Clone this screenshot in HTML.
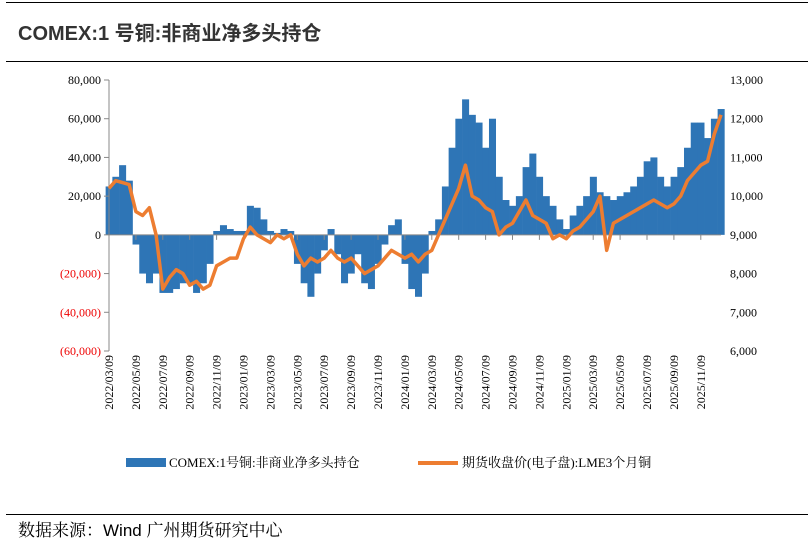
<!DOCTYPE html>
<html><head><meta charset="utf-8">
<style>
body{margin:0;background:#fff;width:808px;height:541px;overflow:hidden;font-family:"Liberation Serif","Noto Serif CJK SC",serif;}
.title{position:absolute;left:18px;top:17px;font:bold 20px "Liberation Sans","Noto Sans CJK SC",sans-serif;color:#333;}
.hr{position:absolute;left:6px;width:802px;height:1px;background:#000;}
.src{position:absolute;left:18px;top:516px;font:17px "Liberation Sans","Noto Serif CJK SC",serif;color:#000;}
</style></head><body>
<div class="hr" style="top:2px"></div>
<div class="title">COMEX:1 号铜:非商业净多头持仓</div>
<div class="hr" style="top:61px"></div>
<svg id="c" width="808" height="541" style="position:absolute;left:0;top:0"></svg>
<div class="hr" style="top:514px"></div>
<div class="src">数据来源：Wind 广州期货研究中心</div>
<script>
const positions=[25,30,36,28,-5,-20,-25,-20,-30,-30,-28,-25,-25,-30,-25,-15,2,5,3,2,
2,15,14,8,2,1,3,2,-15,-25,-32,-20,-8,3,-10,-25,-20,-10,-25,-28,-15,-5,5,8,
-15,-28,-32,-20,2,8,25,45,60,70,62,58,45,60,30,18,15,20,35,42,30,20,15,8,
3,10,15,20,30,22,20,18,20,22,25,30,38,40,30,25,30,35,45,58,58,50,60,65];
const prices=[10.2,10.4,10.35,10.3,9.6,9.5,9.7,9.0,7.6,7.9,8.1,8.0,7.7,7.8,7.6,7.7,8.2,8.3,8.4,8.4,
8.9,9.2,9.0,8.9,8.8,9.0,8.9,9.0,8.5,8.2,8.4,8.3,8.4,8.6,8.4,8.3,8.4,8.2,8.0,8.1,8.2,8.4,8.6,8.5,
8.4,8.5,8.3,8.5,8.6,9.0,9.4,9.8,10.2,10.8,10.0,9.9,9.7,9.6,9.0,9.2,9.3,9.6,9.9,9.5,9.4,9.3,8.9,9.0,
8.9,9.1,9.2,9.4,9.6,10.0,8.6,9.3,9.4,9.5,9.6,9.7,9.8,9.9,9.8,9.7,9.8,10.0,10.4,10.6,10.8,10.9,11.6,12.1];
const leftTicks=[80000,60000,40000,20000,0,-20000,-40000,-60000];
const rightTicks=[13000,12000,11000,10000,9000,8000,7000,6000];
const xLabels=["2022/03/09","2022/05/09","2022/07/09","2022/09/09","2022/11/09","2023/01/09","2023/03/09","2023/05/09","2023/07/09","2023/09/09","2023/11/09","2024/01/09","2024/03/09","2024/05/09","2024/07/09","2024/09/09","2024/11/09","2025/01/09","2025/03/09","2025/05/09","2025/07/09","2025/09/09","2025/11/09"];

const NS="http://www.w3.org/2000/svg",svg=document.getElementById('c');
const X0=109,X1=721,YT=80,YB=351;
const yL=v=>YT+(80000-v)/140000*(YB-YT);
const yR=v=>YT+(13000-v)/7000*(YB-YT);
const step=(X1-X0)/(positions.length-1);
const xi=i=>X0+i*step;
const xt=k=>X0+k*26.9;
function mk(t,a){const e=document.createElementNS(NS,t);for(const k in a)e.setAttribute(k,a[k]);svg.appendChild(e);return e;}
positions.forEach((v,i)=>{const y0=yL(0),y=yL(v*1000);
const r=mk('rect',{x:xi(i)-step/2,y:Math.min(y,y0),width:step+0.3,height:Math.abs(y-y0),fill:'#2e75b6'});

});
let a=mk('line',{x1:X0,y1:YT,x2:X0,y2:YB,stroke:'#888'});
a=mk('line',{x1:X0,y1:yL(0),x2:X1,y2:yL(0),stroke:'#888'});
leftTicks.forEach(v=>{const y=yL(v);mk('line',{x1:X0-5,y1:y,x2:X0,y2:y,stroke:'#888'});
const t=mk('text',{x:X0-8,y:y+4,'text-anchor':'end','font-size':12,fill:v<0?'#e00':'#000'});
t.textContent=v<0?'('+(-v).toLocaleString('en-US')+')':v.toLocaleString('en-US');
});
rightTicks.forEach(v=>{const t=mk('text',{x:730,y:yR(v)+4,'font-size':12,fill:'#000'});
t.textContent=v.toLocaleString('en-US');
});
xLabels.forEach((l,k)=>{const x=xt(k);mk('line',{x1:x,y1:yL(0),x2:x,y2:yL(0)+5,stroke:'#888'});
const t=mk('text',{x:0,y:0,'font-size':12,'text-anchor':'end',transform:`translate(${x+4},355) rotate(-90)`});
t.textContent=l;});
const p=mk('polyline',{points:prices.map((v,i)=>xi(i)+','+yR(v*1000)).join(' '),fill:'none',stroke:'#ed7d31','stroke-width':3.5,'stroke-linejoin':'round'});

let g=mk('rect',{x:126,y:458,width:40,height:9,fill:'#2e75b6'});
let t=mk('text',{x:169,y:467,'font-size':13});t.textContent='COMEX:1号铜:非商业净多头持仓';
g=mk('line',{x1:418,y1:463,x2:458,y2:463,stroke:'#ed7d31','stroke-width':4});
t=mk('text',{x:462,y:467,'font-size':13});t.textContent='期货收盘价(电子盘):LME3个月铜';
</script>
</body></html>
